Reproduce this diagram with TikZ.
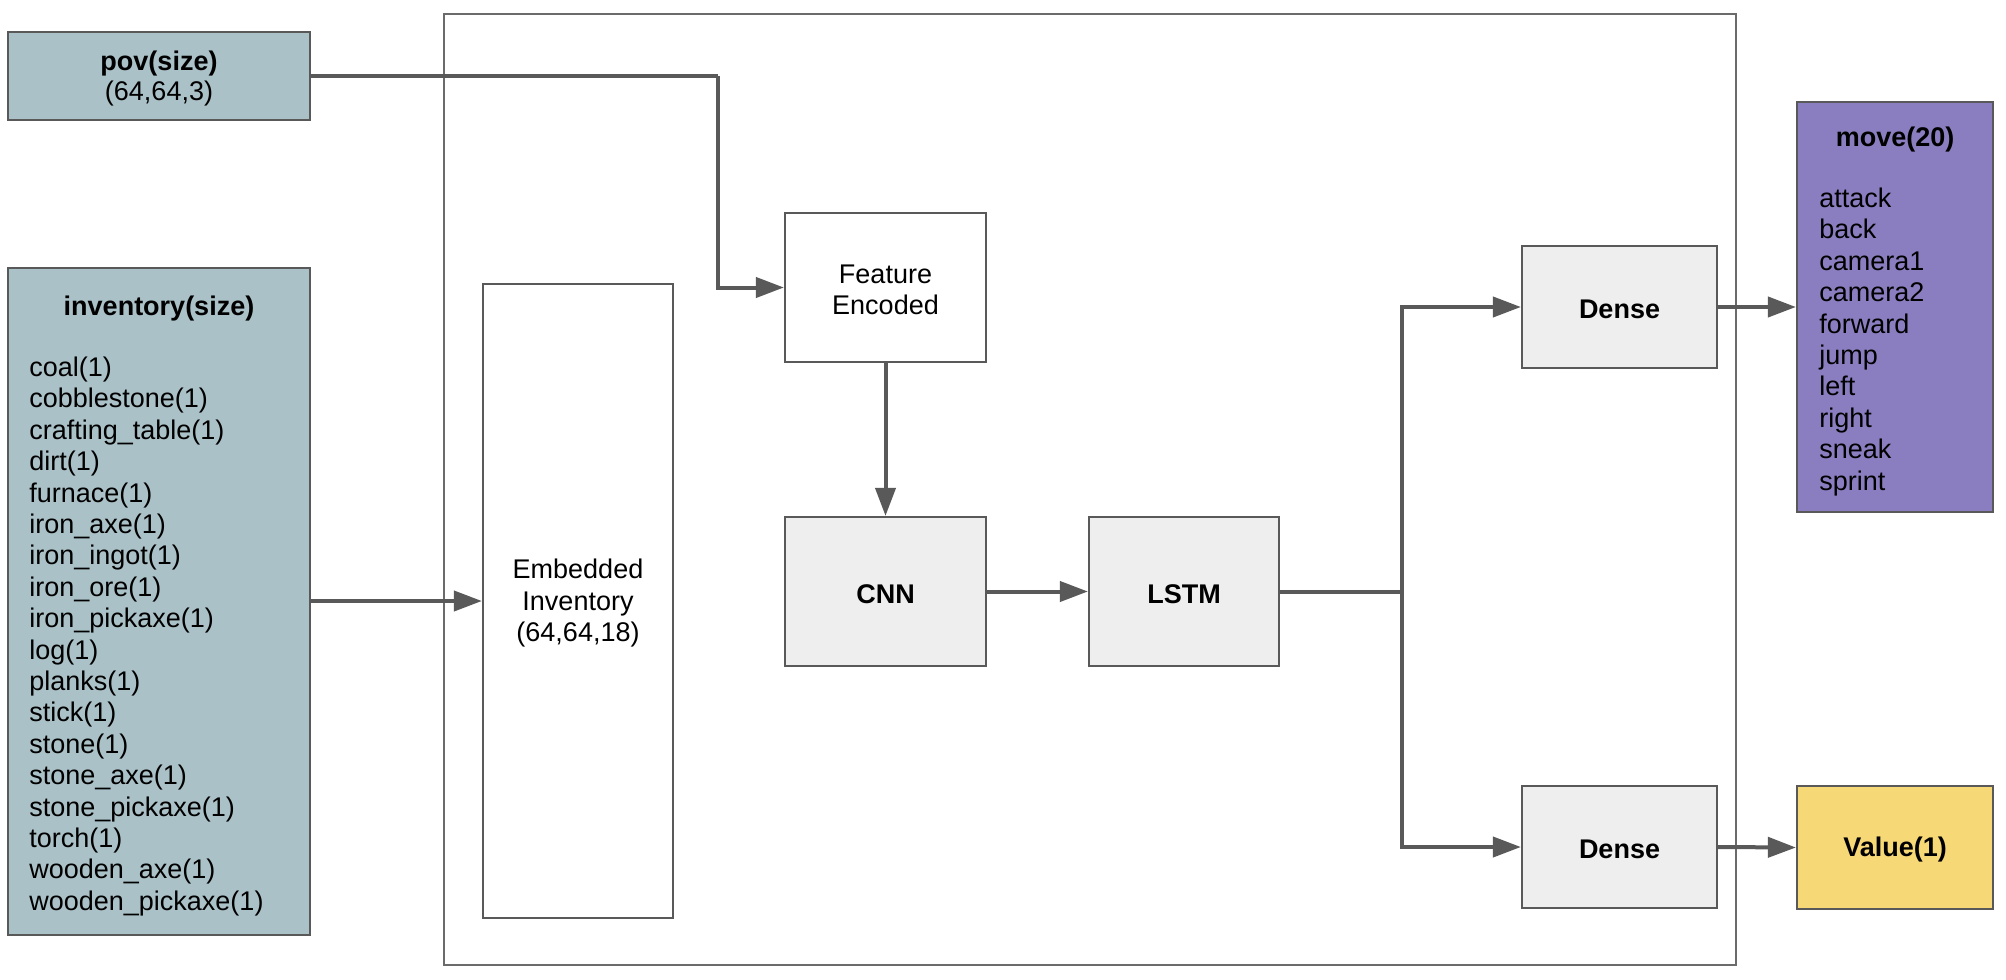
\documentclass[tikz,border=0pt]{standalone}
\usepackage{fontspec}
\setmainfont{Liberation Sans}
\usetikzlibrary{arrows.meta}
\definecolor{lineC}{HTML}{595959}
\definecolor{frameC}{HTML}{6B6B6B}
\definecolor{inC}{HTML}{AAC1C7}
\definecolor{moveC}{HTML}{8B7EC0}
\definecolor{valC}{HTML}{F7D876}
\definecolor{layC}{HTML}{EEEEEE}
\begin{document}
\begin{tikzpicture}[x=0.5pt,y=-0.5pt,
  every node/.style={font=\fontsize{13.5}{15.7}\selectfont, inner sep=0pt},
  blk/.style={draw=lineC, line width=1.1pt},
  txt/.style={yshift=-1.2pt},
  arr/.style={draw=lineC, line width=2pt, -{Triangle[length=14pt,width=10pt]}},
  ln/.style={draw=lineC, line width=2pt}]
\useasboundingbox (0,0) rectangle (2006,979);
% container
\node[draw=frameC, line width=1pt, minimum width=646pt, minimum height=475.5pt] (frame) at (1090,489.5) {};
% inputs
\node[blk, fill=inC, minimum width=151pt, minimum height=44pt] (pov) at (159,76) {};
\node[txt, align=center, font=\fontsize{13.5}{15}\selectfont] (povt) at (pov.center) {\textbf{pov(size)}\\(64,64,3)};
\node[blk, fill=inC, minimum width=151pt, minimum height=333.5pt] (inv) at (159,601.5) {};
\node[txt] (invt) at (159,306) {\textbf{inventory(size)}};
\node[txt, anchor=west, align=left] (invl) at (29,634) {coal(1)\\cobblestone(1)\\crafting\_table(1)\\dirt(1)\\furnace(1)\\iron\_axe(1)\\iron\_ingot(1)\\iron\_ore(1)\\iron\_pickaxe(1)\\log(1)\\planks(1)\\stick(1)\\stone(1)\\stone\_axe(1)\\stone\_pickaxe(1)\\torch(1)\\wooden\_axe(1)\\wooden\_pickaxe(1)};
% layers
\node[blk, fill=white, minimum width=100.5pt, minimum height=74.5pt] (feat) at (885.5,287.5) {};
\node[txt, align=center] (featt) at (feat.center) {Feature\\Encoded};
\node[blk, fill=white, minimum width=95pt, minimum height=317pt] (emb) at (578,601) {};
\node[txt, align=center] (embt) at (emb.center) {Embedded\\Inventory\\(64,64,18)};
\node[blk, fill=layC, minimum width=100.5pt, minimum height=74.5pt] (cnn) at (885.5,591.5) {};
\node[txt] (cnnt) at (cnn.center) {\textbf{CNN}};
\node[blk, fill=layC, minimum width=95pt, minimum height=74.5pt] (lstm) at (1184,591.5) {};
\node[txt] (lstmt) at (lstm.center) {\textbf{LSTM}};
\node[blk, fill=layC, minimum width=97.5pt, minimum height=61pt] (d1) at (1619.5,307) {};
\node[txt] (d1t) at (d1.center) {\textbf{Dense}};
\node[blk, fill=layC, minimum width=97.5pt, minimum height=61pt] (d2) at (1619.5,847) {};
\node[txt] (d2t) at (d2.center) {\textbf{Dense}};
% outputs
\node[blk, fill=moveC, minimum width=98pt, minimum height=205pt] (move) at (1895,307) {};
\node[txt] (movet) at (1895,137) {\textbf{move(20)}};
\node[txt, anchor=west, align=left] (movel) at (1819,339.5) {attack\\back\\camera1\\camera2\\forward\\jump\\left\\right\\sneak\\sprint};
\node[blk, fill=valC, minimum width=98pt, minimum height=61.5pt] (val) at (1895,847.5) {};
\node[txt] (valt) at (val.center) {\textbf{Value(1)}};
% connectors
\coordinate (p1) at (718,76);
\coordinate (split) at (1402,591.5);
\draw[ln] (pov.east) -- (p1);
\draw[arr] (p1) |- (feat.west);
\draw[arr] (inv.east |- emb.west) -- (emb.west);
\draw[arr] (feat.south) -- (cnn.north);
\draw[arr] (cnn.east) -- (lstm.west);
\draw[ln] (lstm.east) -- (split);
\draw[arr] (split) |- (d1.west);
\draw[arr] (split) |- (d2.west);
\draw[arr] (d1.east) -- (move.west);
\draw[arr] (d2.east) -- (val.west);
\end{tikzpicture}
\end{document}
